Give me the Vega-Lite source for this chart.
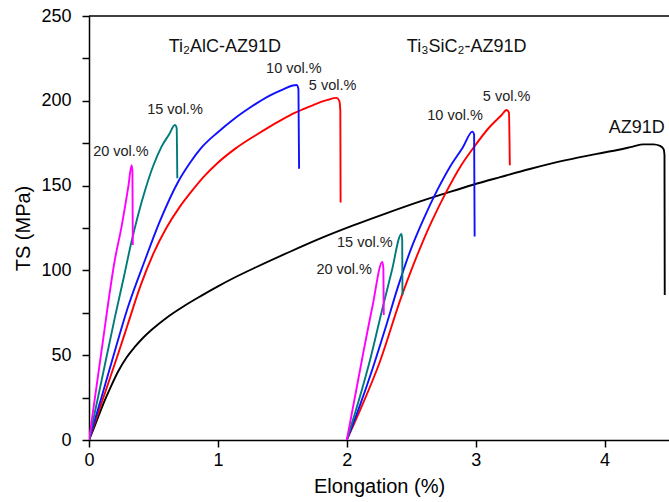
{
  "$schema": "https://vega.github.io/schema/vega-lite/v6.json",
  "width": 580,
  "height": 424,
  "autosize": {"type": "none"},
  "padding": {"left": 89, "top": 16, "right": 0, "bottom": 62},
  "background": "white",
  "config": {
    "view": {"stroke": null},
    "font": "Liberation Sans",
    "axis": {
      "domainColor": "black", "domainWidth": 1.5,
      "ticks": true, "tickColor": "black", "tickWidth": 1.5, "tickSize": 7,
      "labelColor": "black", "labelFontSize": 18, "labelFont": "Liberation Sans",
      "titleColor": "black", "titleFontSize": 20, "titleFontWeight": "normal", "titleFont": "Liberation Sans",
      "grid": false, "labelFlush": false, "labelOverlap": false, "labelBound": false
    }
  },
  "datasets": {
    "curves": [
      {"s": "AZ91D", "x": 0, "y": 0},
      {"s": "AZ91D", "x": 0.03, "y": 5.5},
      {"s": "AZ91D", "x": 0.072, "y": 13.8},
      {"s": "AZ91D", "x": 0.124, "y": 23.7},
      {"s": "AZ91D", "x": 0.17, "y": 31.5},
      {"s": "AZ91D", "x": 0.227, "y": 40.5},
      {"s": "AZ91D", "x": 0.29, "y": 48.5},
      {"s": "AZ91D", "x": 0.357, "y": 55},
      {"s": "AZ91D", "x": 0.42, "y": 60.3},
      {"s": "AZ91D", "x": 0.486, "y": 65},
      {"s": "AZ91D", "x": 0.6, "y": 72},
      {"s": "AZ91D", "x": 0.744, "y": 79.3},
      {"s": "AZ91D", "x": 0.87, "y": 85},
      {"s": "AZ91D", "x": 1.0, "y": 90.6},
      {"s": "AZ91D", "x": 1.13, "y": 95.8},
      {"s": "AZ91D", "x": 1.3, "y": 102},
      {"s": "AZ91D", "x": 1.53, "y": 110},
      {"s": "AZ91D", "x": 1.8, "y": 119},
      {"s": "AZ91D", "x": 2.05, "y": 126.5},
      {"s": "AZ91D", "x": 2.3, "y": 133.5},
      {"s": "AZ91D", "x": 2.57, "y": 140.7},
      {"s": "AZ91D", "x": 2.8, "y": 146.3},
      {"s": "AZ91D", "x": 2.98, "y": 150.5},
      {"s": "AZ91D", "x": 3.19, "y": 155},
      {"s": "AZ91D", "x": 3.42, "y": 159.8},
      {"s": "AZ91D", "x": 3.7, "y": 165},
      {"s": "AZ91D", "x": 3.94, "y": 168.7},
      {"s": "AZ91D", "x": 4.1, "y": 171},
      {"s": "AZ91D", "x": 4.22, "y": 173},
      {"s": "AZ91D", "x": 4.3, "y": 174.3},
      {"s": "AZ91D", "x": 4.38, "y": 174.3},
      {"s": "AZ91D", "x": 4.43, "y": 173.4},
      {"s": "AZ91D", "x": 4.458, "y": 171.5},
      {"s": "AZ91D", "x": 4.465, "y": 168},
      {"s": "AZ91D", "x": 4.467, "y": 85.5},

      {"s": "A5", "x": 0, "y": 0},
      {"s": "A5", "x": 0.098, "y": 22},
      {"s": "A5", "x": 0.227, "y": 51},
      {"s": "A5", "x": 0.3, "y": 68},
      {"s": "A5", "x": 0.4, "y": 91},
      {"s": "A5", "x": 0.5, "y": 110},
      {"s": "A5", "x": 0.6, "y": 125},
      {"s": "A5", "x": 0.7, "y": 137},
      {"s": "A5", "x": 0.8, "y": 147},
      {"s": "A5", "x": 0.9, "y": 156},
      {"s": "A5", "x": 1.0, "y": 163.5},
      {"s": "A5", "x": 1.13, "y": 171.5},
      {"s": "A5", "x": 1.3, "y": 180},
      {"s": "A5", "x": 1.48, "y": 188.2},
      {"s": "A5", "x": 1.6, "y": 193},
      {"s": "A5", "x": 1.74, "y": 197.5},
      {"s": "A5", "x": 1.85, "y": 200.5},
      {"s": "A5", "x": 1.92, "y": 201.7},
      {"s": "A5", "x": 1.942, "y": 200},
      {"s": "A5", "x": 1.95, "y": 194},
      {"s": "A5", "x": 1.952, "y": 140},

      {"s": "A10", "x": 0, "y": 0},
      {"s": "A10", "x": 0.1, "y": 26},
      {"s": "A10", "x": 0.176, "y": 46},
      {"s": "A10", "x": 0.305, "y": 79},
      {"s": "A10", "x": 0.434, "y": 106},
      {"s": "A10", "x": 0.55, "y": 129},
      {"s": "A10", "x": 0.69, "y": 152},
      {"s": "A10", "x": 0.78, "y": 163},
      {"s": "A10", "x": 0.874, "y": 172.5},
      {"s": "A10", "x": 1.0, "y": 181.5},
      {"s": "A10", "x": 1.12, "y": 189},
      {"s": "A10", "x": 1.25, "y": 196},
      {"s": "A10", "x": 1.38, "y": 202.2},
      {"s": "A10", "x": 1.5, "y": 206.5},
      {"s": "A10", "x": 1.58, "y": 209},
      {"s": "A10", "x": 1.61, "y": 209.3},
      {"s": "A10", "x": 1.625, "y": 207},
      {"s": "A10", "x": 1.63, "y": 160},

      {"s": "A15", "x": 0, "y": 0},
      {"s": "A15", "x": 0.1, "y": 36},
      {"s": "A15", "x": 0.2, "y": 72},
      {"s": "A15", "x": 0.27, "y": 96},
      {"s": "A15", "x": 0.33, "y": 117},
      {"s": "A15", "x": 0.434, "y": 147},
      {"s": "A15", "x": 0.5, "y": 162},
      {"s": "A15", "x": 0.563, "y": 173},
      {"s": "A15", "x": 0.62, "y": 180},
      {"s": "A15", "x": 0.667, "y": 185.7},
      {"s": "A15", "x": 0.68, "y": 184},
      {"s": "A15", "x": 0.685, "y": 154.3},

      {"s": "A20", "x": 0, "y": 0},
      {"s": "A20", "x": 0.098, "y": 53},
      {"s": "A20", "x": 0.2, "y": 106},
      {"s": "A20", "x": 0.253, "y": 126},
      {"s": "A20", "x": 0.305, "y": 149.4},
      {"s": "A20", "x": 0.331, "y": 162},
      {"s": "A20", "x": 0.337, "y": 158},
      {"s": "A20", "x": 0.34, "y": 115},

      {"s": "B5", "x": 2.0, "y": 0},
      {"s": "B5", "x": 2.1, "y": 17},
      {"s": "B5", "x": 2.256, "y": 46},
      {"s": "B5", "x": 2.424, "y": 84.5},
      {"s": "B5", "x": 2.5, "y": 100},
      {"s": "B5", "x": 2.59, "y": 117},
      {"s": "B5", "x": 2.66, "y": 129},
      {"s": "B5", "x": 2.77, "y": 146},
      {"s": "B5", "x": 2.88, "y": 161},
      {"s": "B5", "x": 2.98, "y": 172},
      {"s": "B5", "x": 3.11, "y": 184.7},
      {"s": "B5", "x": 3.2, "y": 191.5},
      {"s": "B5", "x": 3.24, "y": 194.6},
      {"s": "B5", "x": 3.258, "y": 193},
      {"s": "B5", "x": 3.265, "y": 162},

      {"s": "B10", "x": 2.0, "y": 0},
      {"s": "B10", "x": 2.1, "y": 20},
      {"s": "B10", "x": 2.2, "y": 42},
      {"s": "B10", "x": 2.3, "y": 66},
      {"s": "B10", "x": 2.4, "y": 91},
      {"s": "B10", "x": 2.5, "y": 113},
      {"s": "B10", "x": 2.6, "y": 131},
      {"s": "B10", "x": 2.7, "y": 147},
      {"s": "B10", "x": 2.8, "y": 161},
      {"s": "B10", "x": 2.9, "y": 172.5},
      {"s": "B10", "x": 2.975, "y": 181.8},
      {"s": "B10", "x": 2.988, "y": 180},
      {"s": "B10", "x": 2.992, "y": 120},

      {"s": "B15", "x": 2.0, "y": 0},
      {"s": "B15", "x": 2.1, "y": 25},
      {"s": "B15", "x": 2.18, "y": 47},
      {"s": "B15", "x": 2.28, "y": 78.6},
      {"s": "B15", "x": 2.35, "y": 100},
      {"s": "B15", "x": 2.424, "y": 121.5},
      {"s": "B15", "x": 2.43, "y": 118},
      {"s": "B15", "x": 2.432, "y": 85.5},

      {"s": "B20", "x": 2.0, "y": 0},
      {"s": "B20", "x": 2.06, "y": 24},
      {"s": "B20", "x": 2.127, "y": 51},
      {"s": "B20", "x": 2.2, "y": 79},
      {"s": "B20", "x": 2.276, "y": 105},
      {"s": "B20", "x": 2.284, "y": 101},
      {"s": "B20", "x": 2.287, "y": 73.7}
    ],
    "labels": [
      {"x": 1.59, "y": 219, "t": "10 vol.%"},
      {"x": 1.89, "y": 208.7, "t": "5 vol.%"},
      {"x": 0.667, "y": 194.6, "t": "15 vol.%"},
      {"x": 0.248, "y": 169.8, "t": "20 vol.%"},
      {"x": 2.84, "y": 191, "t": "10 vol.%"},
      {"x": 3.24, "y": 202, "t": "5 vol.%"},
      {"x": 2.14, "y": 116, "t": "15 vol.%"},
      {"x": 1.98, "y": 100, "t": "20 vol.%"}
    ],
    "titles": [
      {"x": 1.054, "y": 231.7, "t": "Ti₂AlC-AZ91D"},
      {"x": 2.93, "y": 231.7, "t": "Ti₃SiC₂-AZ91D"},
      {"x": 4.25, "y": 184, "t": "AZ91D"}
    ]
  },
  "layer": [
    {
      "data": {"name": "curves"},
      "mark": {"type": "line", "strokeWidth": 1.9, "clip": true, "interpolate": "monotone"},
      "encoding": {
        "x": {
          "field": "x", "type": "quantitative",
          "scale": {"domain": [0, 4.5], "nice": false, "zero": false},
          "axis": {
            "title": "Elongation (%)",
            "values": [0, 0.5, 1, 1.5, 2, 2.5, 3, 3.5, 4, 4.5],
            "format": "d",
            "labelExpr": "datum.value % 1 === 0 ? datum.label : ''",
            "labelPadding": 4, "titlePadding": 7
          }
        },
        "y": {
          "field": "y", "type": "quantitative",
          "scale": {"domain": [0, 250], "nice": false},
          "axis": {
            "title": "TS (MPa)",
            "values": [0, 25, 50, 75, 100, 125, 150, 175, 200, 225, 250],
            "format": "d",
            "labelExpr": "datum.value % 50 === 0 ? datum.label : ''",
            "labelPadding": 11, "titlePadding": 7
          }
        },
        "color": {
          "field": "s", "type": "nominal",
          "scale": {
            "domain": ["AZ91D", "A5", "A10", "A15", "A20", "B5", "B10", "B15", "B20"],
            "range": ["#000000", "#ff0000", "#1010ff", "#007b7b", "#ff00ff", "#ff0000", "#1010ff", "#007b7b", "#ff00ff"]
          },
          "legend": null
        },
        "order": {"value": null}
      }
    },
    {
      "data": {"values": [{"x": 0, "x2": 4.5, "y": 250}]},
      "mark": {"type": "rule", "color": "black", "strokeWidth": 1.5},
      "encoding": {
        "x": {"field": "x", "type": "quantitative"},
        "x2": {"field": "x2"},
        "y": {"field": "y", "type": "quantitative"}
      }
    },
    {
      "data": {"name": "labels"},
      "mark": {"type": "text", "fontSize": 14.5, "color": "#222222", "font": "Liberation Sans"},
      "encoding": {
        "x": {"field": "x", "type": "quantitative"},
        "y": {"field": "y", "type": "quantitative"},
        "text": {"field": "t"}
      }
    },
    {
      "data": {"name": "titles"},
      "mark": {"type": "text", "fontSize": 18, "color": "#111111", "font": "Liberation Sans"},
      "encoding": {
        "x": {"field": "x", "type": "quantitative"},
        "y": {"field": "y", "type": "quantitative"},
        "text": {"field": "t"}
      }
    }
  ]
}
